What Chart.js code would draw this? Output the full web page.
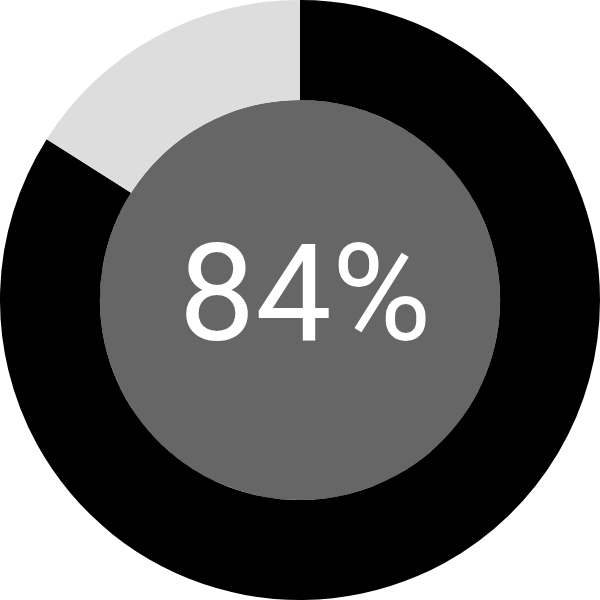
<!DOCTYPE html>
<html>
<head>
<meta charset="utf-8">
<script src="https://cdn.jsdelivr.net/npm/chart.js@4"></script>
<style>
  html, body { margin: 0; padding: 0; background: #fff; }
  #wrap { width: 600px; height: 600px; }
</style>
</head>
<body>
<div id="wrap"><canvas id="gauge"></canvas></div>
<script>
const labels = ['Done', 'Remaining'];
const values = [84, 16];
const colors = ['#000000', '#dddddd'];
const centerText = '84%';

// fill the hole and write the percentage
const centerPlugin = {
  id: 'centerFill',
  beforeDatasetsDraw(chart) {
    const arc = chart.getDatasetMeta(0).data[0];
    if (!arc) return;
    const ctx = chart.ctx;
    ctx.save();
    ctx.beginPath();
    ctx.arc(arc.x, arc.y, arc.innerRadius, 0, Math.PI * 2);
    ctx.fillStyle = '#666666';
    ctx.fill();
    ctx.restore();
  },
  afterDraw(chart) {
    const arc = chart.getDatasetMeta(0).data[0];
    if (!arc) return;
    const ctx = chart.ctx;
    ctx.save();
    ctx.fillStyle = '#ffffff';
    ctx.font = '136px Roboto, "Liberation Sans", sans-serif';
    ctx.textAlign = 'center';
    ctx.textBaseline = 'alphabetic';
    ctx.fillText(centerText, arc.x + 5, arc.y + 40);
    ctx.restore();
  }
};

new Chart(document.getElementById('gauge'), {
  type: 'doughnut',
  data: {
    labels: labels,
    datasets: [{
      data: values,
      backgroundColor: colors,
      borderWidth: 0
    }]
  },
  options: {
    responsive: true,
    maintainAspectRatio: false,
    animation: false,
    cutout: '66.7%',
    plugins: {
      legend: { display: false },
      tooltip: { enabled: false }
    }
  },
  plugins: [centerPlugin]
});
</script>
</body>
</html>
